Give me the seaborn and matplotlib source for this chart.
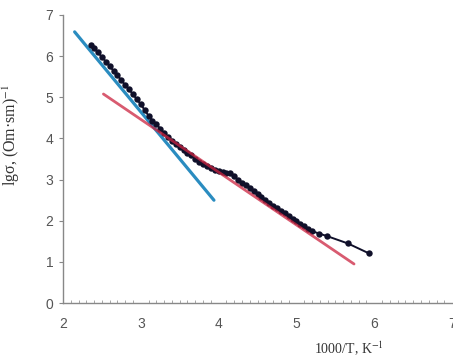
import matplotlib
matplotlib.use("Agg")
import matplotlib.pyplot as plt
import seaborn as sns
import pandas as pd
from matplotlib.ticker import MultipleLocator

# ---- data ----
data_x = [2.36, 2.40, 2.45, 2.50, 2.55, 2.60, 2.65, 2.70, 2.75, 2.80, 2.85, 2.90,
          2.95, 3.00, 3.05, 3.10, 3.15, 3.20, 3.25, 3.30, 3.35, 3.40, 3.45, 3.50,
          3.55, 3.60, 3.65, 3.70, 3.75, 3.80, 3.85, 3.90, 3.95, 4.00, 4.05, 4.10,
          4.15, 4.20, 4.25, 4.30, 4.35, 4.40, 4.45, 4.50, 4.55, 4.60, 4.65, 4.70,
          4.75, 4.80, 4.85, 4.90, 4.95, 5.00, 5.05, 5.10, 5.15, 5.20, 5.29, 5.39,
          5.66, 5.93]
data_y = [6.27, 6.19, 6.09, 5.98, 5.87, 5.76, 5.64, 5.54, 5.41, 5.30, 5.19, 5.07,
          4.95, 4.83, 4.69, 4.55, 4.43, 4.34, 4.24, 4.13, 4.04, 3.95, 3.87, 3.79,
          3.72, 3.65, 3.59, 3.51, 3.44, 3.39, 3.34, 3.29, 3.24, 3.20, 3.18, 3.17,
          3.15, 3.08, 3.00, 2.92, 2.86, 2.79, 2.72, 2.64, 2.58, 2.51, 2.44, 2.37,
          2.31, 2.24, 2.18, 2.11, 2.05, 1.99, 1.93, 1.87, 1.81, 1.75, 1.69, 1.63,
          1.45, 1.21]
blue_x = [2.15, 3.94]
blue_y = [6.59, 2.50]
red_x = [2.52, 5.74]
red_y = [5.08, 0.95]

x_ticks = [2, 3, 4, 5, 6, 7]
y_ticks = [0, 1, 2, 3, 4, 5, 6, 7]

sns.set_style("white")
plt.rcParams["font.family"] = ["Liberation Sans", "DejaVu Sans"]
plt.rcParams["mathtext.fontset"] = "stix"

fig = plt.figure(figsize=(4.53, 3.57), dpi=100)
ax = fig.add_axes([0.139, 0.151, 0.859, 0.807])

df_data = pd.DataFrame({"x": data_x, "y": data_y})
df_blue = pd.DataFrame({"x": blue_x, "y": blue_y})
df_red = pd.DataFrame({"x": red_x, "y": red_y})

sns.lineplot(data=df_blue, x="x", y="y", ax=ax, color="#2a8cc0", lw=2.3, sort=False, zorder=2)
sns.lineplot(data=df_data, x="x", y="y", ax=ax, color="#10102a", lw=1.4, marker="o",
             markersize=4.6, markeredgewidth=0, sort=False, zorder=3)
sns.lineplot(data=df_red, x="x", y="y", ax=ax, color="#cc2440", lw=2.0, alpha=0.75,
             sort=False, zorder=4)

ax.set_xlim(2, 7)
ax.set_ylim(0, 7)
ax.set_xticks(x_ticks)
ax.set_yticks(y_ticks)
ax.xaxis.set_minor_locator(MultipleLocator(0.1))

for s in ["top", "right"]:
    ax.spines[s].set_visible(False)
for s in ["left", "bottom"]:
    ax.spines[s].set_color("#888888")
    ax.spines[s].set_linewidth(1.0)

ax.tick_params(axis="x", which="major", direction="in", length=4, width=0.8,
               color="#888888", labelsize=10, labelcolor="#555555", pad=10)
ax.tick_params(axis="x", which="minor", direction="in", length=2.5, width=0.6,
               color="#999999", bottom=True)
ax.tick_params(axis="y", which="major", direction="out", length=3, width=0.8,
               color="#888888", labelsize=10, labelcolor="#555555", left=True, pad=4)

ax.set_xlabel("1000/T, K$^{-1}$", fontsize=10, family="Liberation Serif", color="#333333")
ax.set_ylabel("lgσ, (Om·sm)$^{-1}$", fontsize=11.5, family="Liberation Serif", color="#333333")
ax.xaxis.set_label_coords(0.735, -0.128)
ax.yaxis.set_label_coords(-0.105, 0.585)

fig.savefig("out.png", dpi=100)
